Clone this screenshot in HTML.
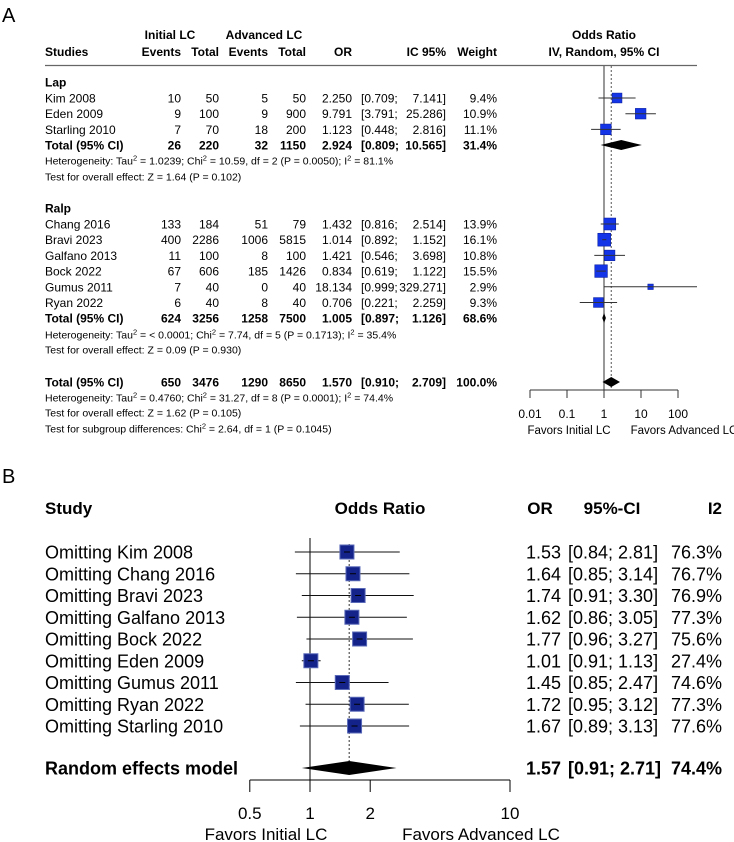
<!DOCTYPE html>
<html><head><meta charset="utf-8"><style>
html,body{margin:0;padding:0;background:#fff;}
svg{display:block;font-family:"Liberation Sans",Arial,sans-serif;}
</style></head><body>
<svg id="fig" width="734" height="842" viewBox="0 0 734 842" xmlns="http://www.w3.org/2000/svg">
<g id="A"></g>
<g id="B"></g>
</svg>
<script>
// ---------- Panel A data ----------
const aStudies = ["Kim 2008","Eden 2009","Starling 2010","Chang 2016","Bravi 2023","Galfano 2013","Bock 2022","Gumus 2011","Ryan 2022"];
const aGroup = ["Lap","Lap","Lap","Ralp","Ralp","Ralp","Ralp","Ralp","Ralp"];
const aInitEvents = [10,9,7,133,400,11,67,7,6];
const aInitTotal = [50,100,70,184,2286,100,606,40,40];
const aAdvEvents = [5,9,18,51,1006,8,185,0,8];
const aAdvTotal = [50,900,200,79,5815,100,1426,40,40];
const aOR = [2.250,9.791,1.123,1.432,1.014,1.421,0.834,18.134,0.706];
const aLo = [0.709,3.791,0.448,0.816,0.892,0.546,0.619,0.999,0.221];
const aHi = [7.141,25.286,2.816,2.514,1.152,3.698,1.122,329.271,2.259];
const aWeight = [9.4,10.9,11.1,13.9,16.1,10.8,15.5,2.9,9.3];
const aTotNames = ["Lap","Ralp","Overall"];
const aTotInitE = [26,624,650];
const aTotInitT = [220,3256,3476];
const aTotAdvE = [32,1258,1290];
const aTotAdvT = [1150,7500,8650];
const aTotOR = [2.924,1.005,1.570];
const aTotLo = [0.809,0.897,0.910];
const aTotHi = [10.565,1.126,2.709];
const aTotW = [31.4,68.6,100.0];
const aTicks = [0.01,0.1,1,10,100];
const aTickLabels = ["0.01","0.1","1","10","100"];

// ---------- Panel B data ----------
const bStudies = ["Omitting Kim 2008","Omitting Chang 2016","Omitting Bravi 2023","Omitting Galfano 2013","Omitting Bock 2022","Omitting Eden 2009","Omitting Gumus 2011","Omitting Ryan 2022","Omitting Starling 2010"];
const bOR = [1.53,1.64,1.74,1.62,1.77,1.01,1.45,1.72,1.67];
const bLo = [0.84,0.85,0.91,0.86,0.96,0.91,0.85,0.95,0.89];
const bHi = [2.81,3.14,3.30,3.05,3.27,1.13,2.47,3.12,3.13];
const bI2 = [76.3,76.7,76.9,77.3,75.6,27.4,74.6,77.3,77.6];
const bPooled = [1.57,0.91,2.71,74.4];
const bTicks = [0.5,1,2,10];
const bTickLabels = ["0.5","1","2","10"];

const NS="http://www.w3.org/2000/svg";
function mk(parent,tag,attrs,text){const e=document.createElementNS(NS,tag);for(const k in attrs)e.setAttribute(k,attrs[k]);if(text!==undefined)e.textContent=text;parent.appendChild(e);return e;}
const A=document.getElementById('A'), B=document.getElementById('B');

const xA = v => 604 + 37*Math.log10(v);
const xB = v => 310 + 200*Math.log10(v);
const f3 = v => v.toFixed(3);
const FA = 12;

// ----- Panel A -----
let t;
t=mk(A,'text',{x:2,y:22,'font-size':20},'A');

function hdr(x,y,s,anchor){const e=mk(A,'text',{x:x,y:y,'font-size':12,'font-weight':'bold','text-anchor':anchor||'end'},s);return e;}
hdr(45,56,'Studies','start');
hdr(170,39,'Initial LC','middle');hdr(264,39,'Advanced LC','middle');
hdr(181,56,'Events');hdr(219,56,'Total');hdr(268,56,'Events');hdr(306,56,'Total');
hdr(352,56,'OR');hdr(446,56,'IC 95%');hdr(497,56,'Weight');
hdr(604,39,'Odds Ratio','middle');hdr(604,56,'IV, Random, 95% CI','middle');
let r=mk(A,'line',{x1:45,y1:65.5,x2:697,y2:65.5,stroke:'#666','stroke-width':1.3});


r=mk(A,'line',{x1:xA(1),y1:66,x2:xA(1),y2:390,stroke:'#555','stroke-width':1.2});

r=mk(A,'line',{x1:xA(aTotOR[2]),y1:66,x2:xA(aTotOR[2]),y2:390,stroke:'#555','stroke-width':1,'stroke-dasharray':'2,2'});


function rowText(y,name,vals,bold){
  const g=mk(A,'g',{'font-size':FA,'font-weight':bold?'bold':'normal'});
  
  mk(g,'text',{x:45,y:y+4.5},name);
  const xs=[181,219,268,306,352];
  for(let i=0;i<5;i++) mk(g,'text',{x:xs[i],y:y+4.5,'text-anchor':'end'},vals[i]);
  mk(g,'text',{x:361,y:y+4.5},'['+vals[5]+';');
  mk(g,'text',{x:446,y:y+4.5,'text-anchor':'end'},vals[6]+']');
  mk(g,'text',{x:497,y:y+4.5,'text-anchor':'end'},vals[7]);
}
function subText(y,parts){
  const e=mk(A,'text',{x:45,y:y+3.5,'font-size':10.5});
  
  let pending=0;
  parts.forEach(p=>{
    if(typeof p==='string'){ const a={}; if(pending) a.dy=pending; pending=0; mk(e,'tspan',a,p); }
    else { mk(e,'tspan',{'font-size':7.5,dy:-4},p[0]); pending=4; }
  });
}
function square(x,y,w,color){
  const s=3.2*Math.sqrt(w);
  const q=mk(A,'rect',{x:x-s/2,y:y-s/2,width:s,height:s,fill:color,stroke:'#0a1fa0','stroke-width':0.6});
  
}
function ciLine(lo,hi,y){
  const l=mk(A,'line',{x1:Math.max(xA(lo),520),y1:y,x2:Math.min(xA(hi),697),y2:y,stroke:'#333','stroke-width':1});
  
}
function diamond(lo,est,hi,y,name){
  const d=mk(A,'polygon',{points:`${xA(lo)},${y} ${xA(est)},${y-5} ${xA(hi)},${y} ${xA(est)},${y+5}`,fill:'#000'});
  
}
const groupHeadY={Lap:82,Ralp:208};
const startY={Lap:98,Ralp:224};
const sp=15.7;
let idx={Lap:0,Ralp:0};
for(const gname of ["Lap","Ralp"]){
  const h=mk(A,'text',{x:45,y:groupHeadY[gname]+4.5,'font-size':FA,'font-weight':'bold'},gname);
  
}
for(let i=0;i<aStudies.length;i++){
  const g=aGroup[i]; const y=startY[g]+sp*idx[g]; idx[g]++;
  rowText(y,aStudies[i],[aInitEvents[i],aInitTotal[i],aAdvEvents[i],aAdvTotal[i],f3(aOR[i]),f3(aLo[i]),f3(aHi[i]),aWeight[i].toFixed(1)+'%']);
  square(xA(aOR[i]),y,aWeight[i],'#1434e8');
  ciLine(aLo[i],aHi[i],y);
}
const totY=[145,318,382];
for(let k=0;k<3;k++){
  rowText(totY[k],'Total (95% CI)',[aTotInitE[k],aTotInitT[k],aTotAdvE[k],aTotAdvT[k],f3(aTotOR[k]),f3(aTotLo[k]),f3(aTotHi[k]),aTotW[k].toFixed(1)+'%'],true);
  diamond(aTotLo[k],aTotOR[k],aTotHi[k],totY[k],'diamond-'+aTotNames[k].toLowerCase());
}
subText(161,['Heterogeneity: Tau',['2'],' = 1.0239; Chi',['2'],' = 10.59, df = 2 (P = 0.0050); I',['2'],' = 81.1%']);
subText(177,['Test for overall effect: Z = 1.64 (P = 0.102)']);
subText(335,['Heterogeneity: Tau',['2'],' = < 0.0001; Chi',['2'],' = 7.74, df = 5 (P = 0.1713); I',['2'],' = 35.4%']);
subText(350,['Test for overall effect: Z = 0.09 (P = 0.930)']);
subText(398,['Heterogeneity: Tau',['2'],' = 0.4760; Chi',['2'],' = 31.27, df = 8 (P = 0.0001); I',['2'],' = 74.4%']);
subText(413,['Test for overall effect: Z = 1.62 (P = 0.105)']);
subText(429,['Test for subgroup differences: Chi',['2'],' = 2.64, df = 1 (P = 0.1045)']);
r=mk(A,'line',{x1:xA(aTicks[0]),y1:390,x2:xA(aTicks[aTicks.length-1]),y2:390,stroke:'#333','stroke-width':1});

aTicks.forEach((v,i)=>{
  const tk=mk(A,'line',{x1:xA(v),y1:390,x2:xA(v),y2:398,stroke:'#333','stroke-width':1});
  
  const tl=mk(A,'text',{x:xA(v),y:418,'font-size':12,'text-anchor':'middle'},aTickLabels[i]);
  
});
t=mk(A,'text',{x:569,y:434,'font-size':11.5,'text-anchor':'middle'},'Favors Initial LC');

t=mk(A,'text',{x:684,y:434,'font-size':11.5,'text-anchor':'middle'},'Favors Advanced LC');


// ----- Panel B -----
const FB=18;
t=mk(B,'text',{x:2,y:483,'font-size':20},'B');

function bh(x,y,s,anchor){const e=mk(B,'text',{x:x,y:y,'font-size':17,'font-weight':'bold','text-anchor':anchor},s);}
bh(45,514,'Study','start');bh(380,514,'Odds Ratio','middle');bh(540,514,'OR','middle');bh(612,514,'95%-CI','middle');bh(722,514,'I2','end');
const bY0=552, bSp=21.75;
r=mk(B,'line',{x1:xB(1),y1:538,x2:xB(1),y2:780,stroke:'#000','stroke-width':1});

r=mk(B,'line',{x1:xB(bPooled[0]),y1:544,x2:xB(bPooled[0]),y2:768,stroke:'#333','stroke-width':1,'stroke-dasharray':'2,2'});

for(let i=0;i<bStudies.length;i++){
  const y=bY0+bSp*i;
  const g=mk(B,'g',{});
  
  mk(g,'text',{x:45,y:y+6.5,'font-size':FB},bStudies[i]);
  mk(g,'line',{x1:xB(bLo[i]),y1:y,x2:xB(bHi[i]),y2:y,stroke:'#111','stroke-width':1});
  mk(g,'rect',{x:xB(bOR[i])-7,y:y-7,width:14,height:14,fill:'#14238a',stroke:'#5a6ab8','stroke-width':1});
  mk(g,'line',{x1:xB(bOR[i])-3,y1:y,x2:xB(bOR[i])+3,y2:y,stroke:'#000','stroke-width':1});
  mk(g,'text',{x:561,y:y+6.5,'font-size':FB,'text-anchor':'end'},bOR[i].toFixed(2));
  mk(g,'text',{x:568,y:y+6.5,'font-size':FB},'['+bLo[i].toFixed(2)+'; '+bHi[i].toFixed(2)+']');
  mk(g,'text',{x:722,y:y+6.5,'font-size':FB,'text-anchor':'end'},bI2[i].toFixed(1)+'%');
}
const ry=768;
t=mk(B,'text',{x:45,y:ry+6.5,'font-size':FB,'font-weight':'bold'},'Random effects model');

r=mk(B,'polygon',{points:`${xB(bPooled[1])},${ry} ${xB(bPooled[0])},${ry-7} ${xB(bPooled[2])},${ry} ${xB(bPooled[0])},${ry+7}`,fill:'#000'});

t=mk(B,'text',{x:561,y:ry+6.5,'font-size':FB,'font-weight':'bold','text-anchor':'end'},bPooled[0].toFixed(2));

t=mk(B,'text',{x:568,y:ry+6.5,'font-size':FB,'font-weight':'bold'},'['+bPooled[1].toFixed(2)+'; '+bPooled[2].toFixed(2)+']');

t=mk(B,'text',{x:722,y:ry+6.5,'font-size':FB,'font-weight':'bold','text-anchor':'end'},bPooled[3].toFixed(1)+'%');

r=mk(B,'line',{x1:xB(bTicks[0]),y1:780,x2:xB(bTicks[bTicks.length-1]),y2:780,stroke:'#000','stroke-width':1});

bTicks.forEach((v,i)=>{
  const tk=mk(B,'line',{x1:xB(v),y1:780,x2:xB(v),y2:792,stroke:'#000','stroke-width':1});
  
  const tl=mk(B,'text',{x:xB(v),y:819,'font-size':17,'text-anchor':'middle'},bTickLabels[i]);
  
});
t=mk(B,'text',{x:266,y:840,'font-size':17,'text-anchor':'middle'},'Favors Initial LC');

t=mk(B,'text',{x:481,y:840,'font-size':17,'text-anchor':'middle'},'Favors Advanced LC');

</script>
</body></html>
